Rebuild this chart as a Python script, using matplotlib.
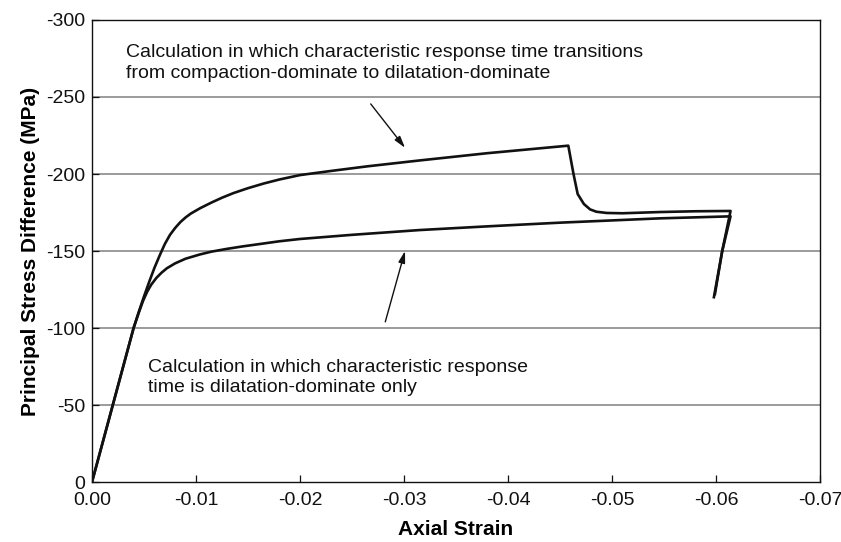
import matplotlib
matplotlib.use("Agg")
import matplotlib.pyplot as plt

plt.rcParams['font.family'] = ['Liberation Sans', 'DejaVu Sans']
plt.rcParams['axes.unicode_minus'] = False

# transition curve (compaction -> dilatation)
strain_trans = [0, -0.002, -0.004, -0.0045, -0.005, -0.0055, -0.006, -0.0065, -0.007,
                -0.0075, -0.008, -0.0085, -0.009, -0.0095, -0.0104, -0.0115,
                -0.0125, -0.0136, -0.015, -0.0165, -0.018, -0.02, -0.023,
                -0.0265, -0.0315, -0.038, -0.0458,
                -0.0463, -0.0467, -0.0473, -0.0479, -0.0485, -0.0495, -0.051,
                -0.0546, -0.058, -0.0614, -0.0606, -0.0598]
stress_trans = [0, -50, -100, -110.5, -120.5, -130, -139, -147, -154.5,
                -160.5, -165, -168.8, -171.8, -174.3, -177.8, -181.5,
                -184.6, -187.6, -190.8, -193.8, -196.4, -199.3, -202,
                -205, -208.8, -213.5, -218.4,
                -200, -187, -180.5, -177, -175.5, -174.7, -174.5,
                -175.3, -175.8, -176, -150, -120]

# dilatation-only curve
strain_dil = [0, -0.002, -0.004, -0.0045, -0.0049, -0.0053, -0.0057, -0.0062,
              -0.0067, -0.0072, -0.008, -0.009, -0.0104, -0.0115, -0.0129,
              -0.0145, -0.0161, -0.018, -0.02, -0.025, -0.0315, -0.038,
              -0.045, -0.0546, -0.0614, -0.0606, -0.0599]
stress_dil = [0, -50, -100, -110, -117.5, -123.5, -128.2, -132.6,
              -136, -138.8, -142, -145, -147.8, -149.6, -151.3,
              -153, -154.5, -156.3, -157.8, -160.5, -163.6, -166,
              -168.4, -171.2, -172.5, -150, -122]

xticks = [0, -0.01, -0.02, -0.03, -0.04, -0.05, -0.06, -0.07]
yticks = [0, -50, -100, -150, -200, -250, -300]

fig = plt.figure(figsize=(8.41, 5.42), dpi=100)
ax = fig.add_axes([0.1094, 0.1107, 0.8656, 0.8524])

for y in yticks[1:-1]:
    ax.axhline(y, color='#808080', lw=1.1, zorder=1)

ax.plot(strain_trans, stress_trans, color='#111111', lw=1.9, zorder=3)
ax.plot(strain_dil, stress_dil, color='#111111', lw=1.9, zorder=3)

ax.set_xlim(0, -0.07)
ax.set_ylim(0, -300)
ax.set_xticks(xticks)
ax.set_xticklabels(['%.2f' % v if v != 0 else '0.00' for v in xticks])
ax.set_yticks(yticks)
ax.set_yticklabels([str(v) for v in yticks])
ax.tick_params(axis='both', direction='in', length=5, width=0.9, labelsize=14,
               colors='#111111')
ax.tick_params(axis='x', pad=7)
ax.tick_params(axis='y', pad=5)
for s in ax.spines.values():
    s.set_linewidth(1.0)
    s.set_color('#111111')

ax.set_xlabel('Axial Strain', fontsize=15, fontweight='bold', labelpad=8)
ax.set_ylabel('Principal Stress Difference (MPa)', fontsize=15, fontweight='bold',
              labelpad=4)

ax.text(-0.0033, -272, 'Calculation in which characteristic response time transitions\n'
        'from compaction-dominate to dilatation-dominate',
        fontsize=14, color='#111111', va='center', ha='left', linespacing=1.25)
ax.text(-0.0054, -68, 'Calculation in which characteristic response\n'
        'time is dilatation-dominate only',
        fontsize=14, color='#111111', va='center', ha='left', linespacing=1.25)

arrow = dict(arrowstyle='-|>,head_length=0.7,head_width=0.2', color='#111111',
             lw=1.0, shrinkA=0, shrinkB=0)
ax.annotate('', xy=(-0.0301, -217), xytext=(-0.0268, -245.5), arrowprops=arrow)
ax.annotate('', xy=(-0.0301, -150), xytext=(-0.0282, -104), arrowprops=arrow)

fig.savefig('out.png', dpi=100)
